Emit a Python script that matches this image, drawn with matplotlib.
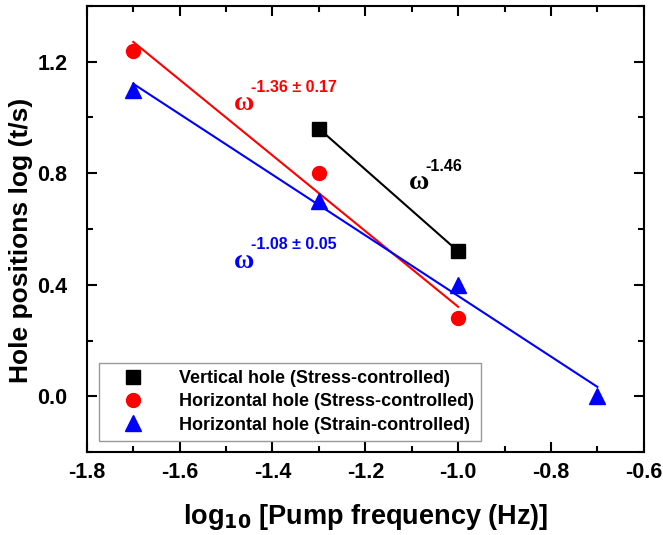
import numpy as np
import matplotlib
matplotlib.use('Agg')
import matplotlib.pyplot as plt
from matplotlib.ticker import MultipleLocator

plt.rcParams['font.family'] = ['Liberation Sans', 'DejaVu Sans']
plt.rcParams['font.weight'] = 'bold'
plt.rcParams['mathtext.default'] = 'bf'

# data
vert_x = [-1.3, -1.0]
vert_y = [0.96, 0.52]
hstress_x = [-1.7, -1.3, -1.0]
hstress_y = [1.24, 0.80, 0.28]
hstrain_x = [-1.7, -1.3, -1.0, -0.7]
hstrain_y = [1.10, 0.70, 0.40, 0.0]

labels = ['Vertical hole (Stress-controlled)',
          'Horizontal hole (Stress-controlled)',
          'Horizontal hole (Strain-controlled)']

fig = plt.figure(figsize=(6.63, 5.35), dpi=100)
ax = fig.add_axes([0.131, 0.155, 0.84, 0.834])

# black: straight line through the two squares
ax.plot(vert_x, vert_y, color='black', lw=1.5)
ax.plot(vert_x, vert_y, 's', color='black', ms=10, label=labels[0])

# linear fits for the horizontal holes
p_red = np.polyfit(hstress_x, hstress_y, 1)
xr = np.array([hstress_x[0], hstress_x[-1]])
ax.plot(xr, np.polyval(p_red, xr), color='red', lw=1.5)
ax.plot(hstress_x, hstress_y, 'o', color='red', ms=10, label=labels[1])

p_blue = np.polyfit(hstrain_x, hstrain_y, 1)
xb = np.array([hstrain_x[0], hstrain_x[-1]])
ax.plot(xb, np.polyval(p_blue, xb), color='blue', lw=1.5)
ax.plot(hstrain_x, hstrain_y, '^', color='blue', ms=11, label=labels[2])

# exponent annotations
def omega(x, y, exp, color):
    ax.text(x, y, '\u03c9', color=color, fontsize=20, family='Liberation Serif',
            fontweight='bold', ha='left', va='center')
    ax.text(x + 0.036, y + 0.058, exp, color=color, fontsize=11.5,
            fontweight='bold', ha='left', va='center')

omega(-1.483, 1.05, '-1.36 \u00b1 0.17', 'red')
omega(-1.483, 0.485, '-1.08 \u00b1 0.05', 'blue')
omega(-1.106, 0.765, '-1.46', 'black')

ax.set_xlim(-1.8, -0.6)
ax.set_ylim(-0.2, 1.4)
ax.xaxis.set_major_locator(MultipleLocator(0.2))
ax.xaxis.set_minor_locator(MultipleLocator(0.1))
ax.yaxis.set_major_locator(MultipleLocator(0.4))
ax.yaxis.set_minor_locator(MultipleLocator(0.2))
ax.set_yticks([0.0, 0.4, 0.8, 1.2])
ax.tick_params(which='both', direction='in', top=True, right=True, width=1.5)
ax.tick_params(which='major', length=7, labelsize=15.5, pad=7)
ax.tick_params(axis='y', which='major', pad=14)
ax.tick_params(which='minor', length=4)
ax.set_xticklabels(['%.1f' % v for v in ax.get_xticks()])
for sp in ax.spines.values():
    sp.set_linewidth(1.5)

ax.set_xlabel('log$_{10}$ [Pump frequency (Hz)]', fontsize=19.5,
              fontweight='bold', labelpad=14)
ax.set_ylabel('Hole positions log (t/s)', fontsize=19, fontweight='bold')
ax.yaxis.set_label_coords(-0.097, 0.475)

leg = ax.legend(loc='lower left', bbox_to_anchor=(0.022, 0.025),
                frameon=True, fancybox=False, edgecolor='gray',
                handlelength=3.0, handletextpad=1.0, borderpad=0.4,
                labelspacing=0.35, borderaxespad=0.0,
                prop={'weight': 'bold', 'size': 13})
leg.get_frame().set_linewidth(1.0)

fig.savefig('out.png', dpi=100)
